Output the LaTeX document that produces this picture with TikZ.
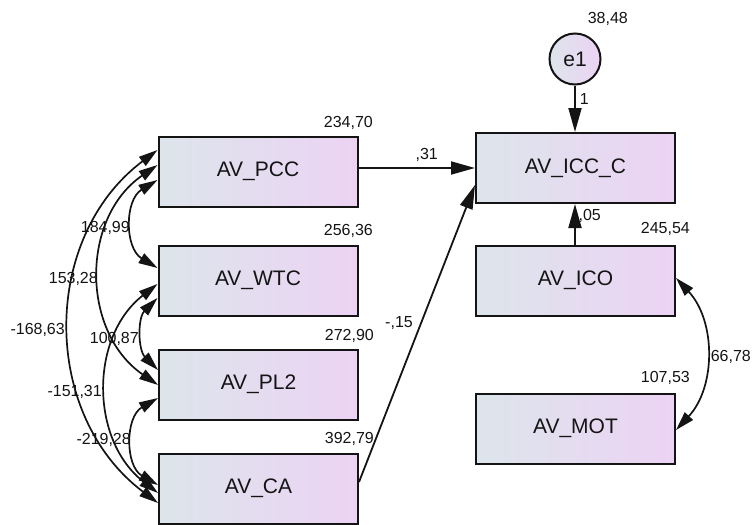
\documentclass[tikz,border=0pt]{standalone}
\usepackage{fontspec}
\setmainfont{Liberation Sans}
\usetikzlibrary{arrows.meta,calc}
\definecolor{boxl}{RGB}{221,229,235}
\definecolor{boxr}{RGB}{236,211,244}
\definecolor{ink}{RGB}{20,20,20}
\begin{document}
\begin{tikzpicture}[x=1pt,y=-1pt,
  var/.style={draw=ink, line width=2pt, left color=boxl, right color=boxr,
    minimum width=199pt, minimum height=70pt, inner sep=0pt,
    font=\fontsize{21}{25}\selectfont, text=ink},
  lat/.style={circle, draw=ink, line width=2pt, left color=boxl, right color=boxr,
    minimum size=51pt, inner sep=0pt, font=\fontsize{21}{25}\selectfont, text=ink},
  num/.style={font=\fontsize{16}{19}\selectfont, text=ink, inner sep=0pt, anchor=base east},
  regarrow/.style={draw=ink, line width=1.8pt, -{Triangle[length=24pt,width=13pt]}},
  cov/.style={draw=ink, line width=1.7pt,
    {Triangle[length=19pt,width=11pt]}-{Triangle[length=19pt,width=11pt]}}
]
\useasboundingbox (0,0) rectangle (753,525);

% observed variables
\node[var] (pcc) at (258,171.5) {AV\_PCC};
\node[var] (wtc) at (258,280.5) {AV\_WTC};
\node[var] (pl2) at (258.5,384.5) {AV\_PL2};
\node[var] (ca)  at (258.5,488.5) {AV\_CA};
\node[var] (icc) at (575.5,168) {AV\_ICC\_C};
\node[var] (ico) at (575.5,280.5) {AV\_ICO};
\node[var] (mot) at (575.5,428.5) {AV\_MOT};
\node[lat] (e1) at (575,59) {e1};

% variance labels
\node[num] (vpcc) at (373,127) {234,70};
\node[num] (vwtc) at (373,235) {256,36};
\node[num] (vpl2) at (374,340) {272,90};
\node[num] (vca)  at (374,443) {392,79};
\node[num] (ve1)  at (628,23) {38,48};
\node[num] (vico) at (690,233) {245,54};
\node[num] (vmot) at (690,382) {107,53};

% regression paths
\draw[regarrow] (icc.west -| pcc.east) -- (icc.west);
\node[num] (l31) at (438,159) {,31};
\draw[regarrow] ($(ca.east)+(0,-6.5)$) -- ($(icc.west)+(0,17)$);
\node[num] (l15) at (413,327) {-,15};
\draw[regarrow] (e1.south) -- (icc.north -| e1.south);
\node[num] (l1) at (589,104) {1};
\draw[regarrow] (ico.north -| e1.south) -- (icc.south -| e1.south);
\node[num] (l05) at (601,220) {,05};

% attachment points on the left sides
\coordinate (p1) at ($(pcc.west)+(0,-21.5)$);
\coordinate (p2) at ($(pcc.west)+(0,-6.5)$);
\coordinate (p3) at ($(pcc.west)+(0,8.5)$);
\coordinate (w1) at ($(wtc.west)+(0,-12.5)$);
\coordinate (w2) at ($(wtc.west)+(0,3.5)$);
\coordinate (w3) at ($(wtc.west)+(0,17.5)$);
\coordinate (l1p) at ($(pl2.west)+(0,-14.5)$);
\coordinate (l2p) at ($(pl2.west)+(0,0.5)$);
\coordinate (l3p) at ($(pl2.west)+(0,13.5)$);
\coordinate (c1) at ($(ca.west)+(0,-3.5)$);
\coordinate (c2) at ($(ca.west)+(0,4.5)$);
\coordinate (c3) at ($(ca.west)+(0,14.5)$);

% covariances
\draw[cov] (p3) .. controls +(-33,20) and +(-33,-20) .. (w1);
\draw[cov] (p2) .. controls +(-77,53) and +(-77,-53) .. (l2p);
\draw[cov] (p1) .. controls +(-117,88) and +(-117,-88) .. (c3);
\draw[cov] (w3) .. controls +(-20,20) and +(-20,-20) .. (l1p);
\draw[cov] (w2) .. controls +(-68,53) and +(-68,-53) .. (c2);
\draw[cov] (l3p) .. controls +(-33,19) and +(-33,-19) .. (c1);

\node[num] (k1) at (130,232) {184,99};
\node[num] (k2) at (98,283) {153,28};
\node[num] (k3) at (65,334) {-168,63};
\node[num] (k4) at (139,343) {100,87};
\node[num] (k5) at (102,396) {-151,31};
\node[num] (k6) at (131,444) {-219,28};

\coordinate (i1) at ($(ico.east)+(0,-2.5)$);
\coordinate (m1) at ($(mot.east)+(0,1.5)$);
\draw[cov] (i1) .. controls +(40,43) and +(40,-43) .. (m1);
\node[num] (k7) at (751,361) {66,78};
\end{tikzpicture}
\end{document}
